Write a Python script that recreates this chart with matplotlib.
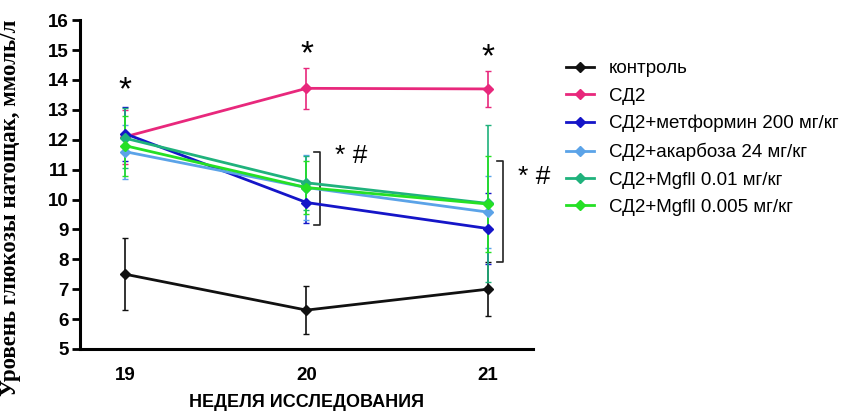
import matplotlib.pyplot as plt

plt.rcParams['font.family'] = ['Liberation Sans', 'DejaVu Sans']

weeks = [19, 20, 21]
labels = ['контроль', 'СД2', 'СД2+метформин 200 мг/кг', 'СД2+акарбоза 24 мг/кг',
          'СД2+Mgfll 0.01 мг/кг', 'СД2+Mgfll 0.005 мг/кг']
colors = ['#111111', '#E8287C', '#1515C8', '#5BA3E8', '#1FB27C', '#25E025']

control = [7.5, 6.3, 7.0]
control_err = [1.2, 0.8, 0.9]
sd2 = [12.1, 13.72, 13.7]
sd2_err = [0.9, 0.68, 0.6]
metformin = [12.2, 9.9, 9.03]
metformin_err = [0.9, 0.7, 1.2]
acarbose = [11.6, 10.4, 9.58]
acarbose_err = [0.9, 1.1, 1.2]
mgfll_01 = [12.05, 10.56, 9.87]
mgfll_01_err = [1.0, 0.9, 2.62]
mgfll_005 = [11.8, 10.4, 9.85]
mgfll_005_err = [1.0, 0.9, 1.6]

series = [control, sd2, metformin, acarbose, mgfll_01, mgfll_005]
errors = [control_err, sd2_err, metformin_err, acarbose_err, mgfll_01_err, mgfll_005_err]

# significance marks
star_x = [19, 20, 21]
star_y = [13.65, 14.85, 14.75]
brackets = [(20.04, 11.6, 9.15), (21.05, 11.3, 7.9)]
bracket_text_y = [11.45, 10.75]

fig = plt.figure(figsize=(8.42, 4.12), dpi=100)
ax = fig.add_axes([0.095, 0.153, 0.538, 0.798])

handles = []
for vals, err, c, lab in zip(series, errors, colors, labels):
    eb = ax.errorbar(weeks, vals, yerr=err, color=c, lw=2, marker='D', markersize=5,
                     elinewidth=1.2, capsize=2, capthick=1, label=lab)
    handles.append(eb[0])

for x, y in zip(star_x, star_y):
    ax.text(x, y, '*', ha='center', va='center', fontsize=24)

for (bx, top, bot), ty in zip(brackets, bracket_text_y):
    ax.plot([bx, bx + 0.035, bx + 0.035, bx], [top, top, bot, bot], color='#222222', lw=1.2)
    ax.text(bx + 0.12, ty, '* #', ha='left', va='center', fontsize=19)

ax.set_xlim(18.75, 21.25)
ax.set_ylim(5, 16)
ax.set_xticks(weeks)
ax.set_yticks(range(5, 17))
ax.tick_params(axis='x', length=0, pad=13, labelsize=13.5)
ax.tick_params(axis='y', length=6, width=2, labelsize=13.5, pad=2)
for t in ax.get_xticklabels() + ax.get_yticklabels():
    t.set_fontweight('bold')

ax.spines['top'].set_visible(False)
ax.spines['right'].set_visible(False)
ax.spines['left'].set_linewidth(2.2)
ax.spines['bottom'].set_linewidth(2.2)

ax.set_xlabel('НЕДЕЛЯ ИССЛЕДОВАНИЯ', fontsize=13, fontweight='bold', labelpad=7)
ax.set_ylabel('Уровень глюкозы натощак, ммоль/л', fontsize=16.5, fontweight='bold',
              family=['Liberation Serif', 'DejaVu Serif'])
ax.yaxis.set_label_coords(-0.13, 0.43)

ax.legend(handles, labels, loc='upper left', bbox_to_anchor=(1.035, 0.93), frameon=False,
          fontsize=13.5, handlelength=1.5, labelspacing=0.55, numpoints=1, handletextpad=0.8)

fig.savefig('out.png', dpi=100)
